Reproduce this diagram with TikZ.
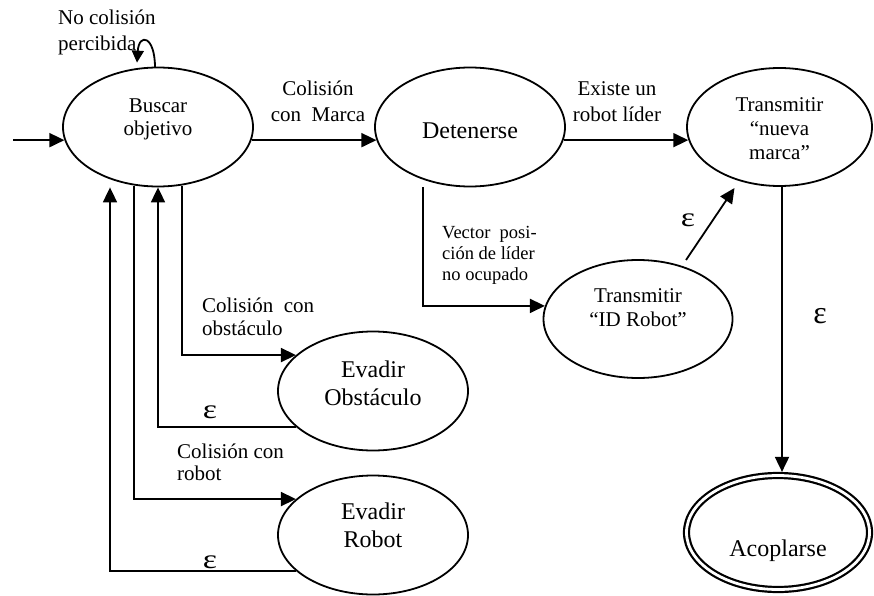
\documentclass[tikz,border=0pt]{standalone}
\usepackage{fontspec}
\setmainfont{Liberation Serif}
\usetikzlibrary{shapes.geometric,arrows.meta,calc}
% stacked lines; optional argument is the tabular's vertical alignment
\newcommand\stk[3][c]{\begin{tabular}[#1]{@{}#2@{}}#3\end{tabular}}
% move text vertically without changing its box
\newcommand\lift[2]{\raisebox{#1}[\height][\depth]{#2}}
% wide epsilon used for empty transitions
\newcommand\weps{\scalebox{1.25}[1]{ε}}
\begin{document}
\begin{tikzpicture}[x=1pt,y=-1pt,
  state/.style={ellipse, draw, line width=1.8pt, inner sep=0pt,
    minimum width=190pt, minimum height=119pt, font=\fontsize{21}{23}\selectfont},
  big/.style={font=\fontsize{24}{28}\selectfont},
  lbl/.style={inner sep=0pt, font=\fontsize{21}{26}\selectfont},
  eps/.style={inner sep=0pt, font=\fontsize{27}{27}\selectfont},
  arr/.style={line width=1.8pt, -{Triangle[length=15pt,width=14pt]}},
  ]
\useasboundingbox (0,0) rectangle (874,596);

% states
\node[state] (B) at (158,127) {\lift{8pt}{\stk{c}{Buscar\\objetivo}}};
\node[state, big] (D) at (470,127) {\lift{-4pt}{Detenerse}};
\node[state, font=\fontsize{21}{24}\selectfont, minimum width=185pt, minimum height=118pt]
  (N) at (779.5,127) {\lift{-4pt}{\stk{c}{Transmitir\\“nueva\\marca”}}};
\node[state, font=\fontsize{21}{24}\selectfont, minimum width=189pt, minimum height=118pt]
  (I) at (638,319) {\lift{9pt}{\stk{c}{Transmitir\\“ID Robot”}}};
\node[state, big] (O) at (373,391) {\lift{5pt}{\stk{c}{Evadir\\Obstáculo}}};
\node[state, big] (R) at (373,535) {\lift{7pt}{\stk{c}{Evadir\\Robot}}};
\node[state, big, double, line width=2.2pt, double distance=2.8pt,
  minimum width=183pt, minimum height=114pt] (A) at (778,532.5) {\lift{-18pt}{Acoplarse}};

% transitions
\coordinate (entry) at (13,140);
\draw[arr] (B.188 -| entry) -- (B.188);
\draw[line width=1.8pt, -{Triangle[length=12pt,width=12pt]}]
  ($(B.north)+(-3,1)$) .. controls +(0,-32) and +(2,-30) .. ($(B.north)+(-21,-4)$);
\draw[arr] (B.-8) -- (B.-8 -| D.188);
\draw[arr] (D.-8) -- (D.-8 -| N.188);
\draw[arr] ($(D.south)+(-47,0)$) |- (I.172);
\draw[arr] ($(I.center)+(48,-59)$) -- ($(N.center)+(-45,61)$);
\coordinate (nb) at ($(N.south)+(2.5,0)$);
\draw[arr, shorten >=2.5pt] (nb) -- (nb |- A.north);
\draw[arr] (B.-68) |- (O.155);
\draw[arr] (O.205) -| (B.south);
\draw[arr] (B.-112) |- (R.155);
\draw[arr] (R.205) -| ($(B.south)+(-48,0)$);

% transition labels
\node[lbl, anchor=base west] (Lloop) at (58,25) {\stk[t]{l}{No colisión\\percibida}};
\node[lbl, anchor=base] (Lmarca) at (318,96) {\stk[t]{c}{Colisión\\con\ \ Marca}};
\node[lbl, anchor=base] (Llider) at (617,96) {\stk[t]{c}{Existe un\\robot líder}};
\node[lbl, anchor=base west, font=\fontsize{18.5}{21}\selectfont] (Lvec) at (442,238)
  {\stk[t]{l}{Vector\ \ posi-\\ción de líder\\no ocupado}};
\node[lbl, anchor=base west, font=\fontsize{21}{23}\selectfont] (Lobs) at (202,312)
  {\stk[t]{l}{Colisión\ \ con\\obstáculo}};
\node[lbl, anchor=base west, font=\fontsize{21}{22}\selectfont] (Lrob) at (177,458)
  {\stk[t]{l}{Colisión con\\robot}};
\node[eps] (E1) at (688,220) {\weps};
\node[eps, font=\fontsize{32}{32}\selectfont] (E2) at (820,316) {ε};
\node[eps] (E3) at (210,412) {\weps};
\node[eps] (E4) at (210,562) {\weps};
\end{tikzpicture}
\end{document}
